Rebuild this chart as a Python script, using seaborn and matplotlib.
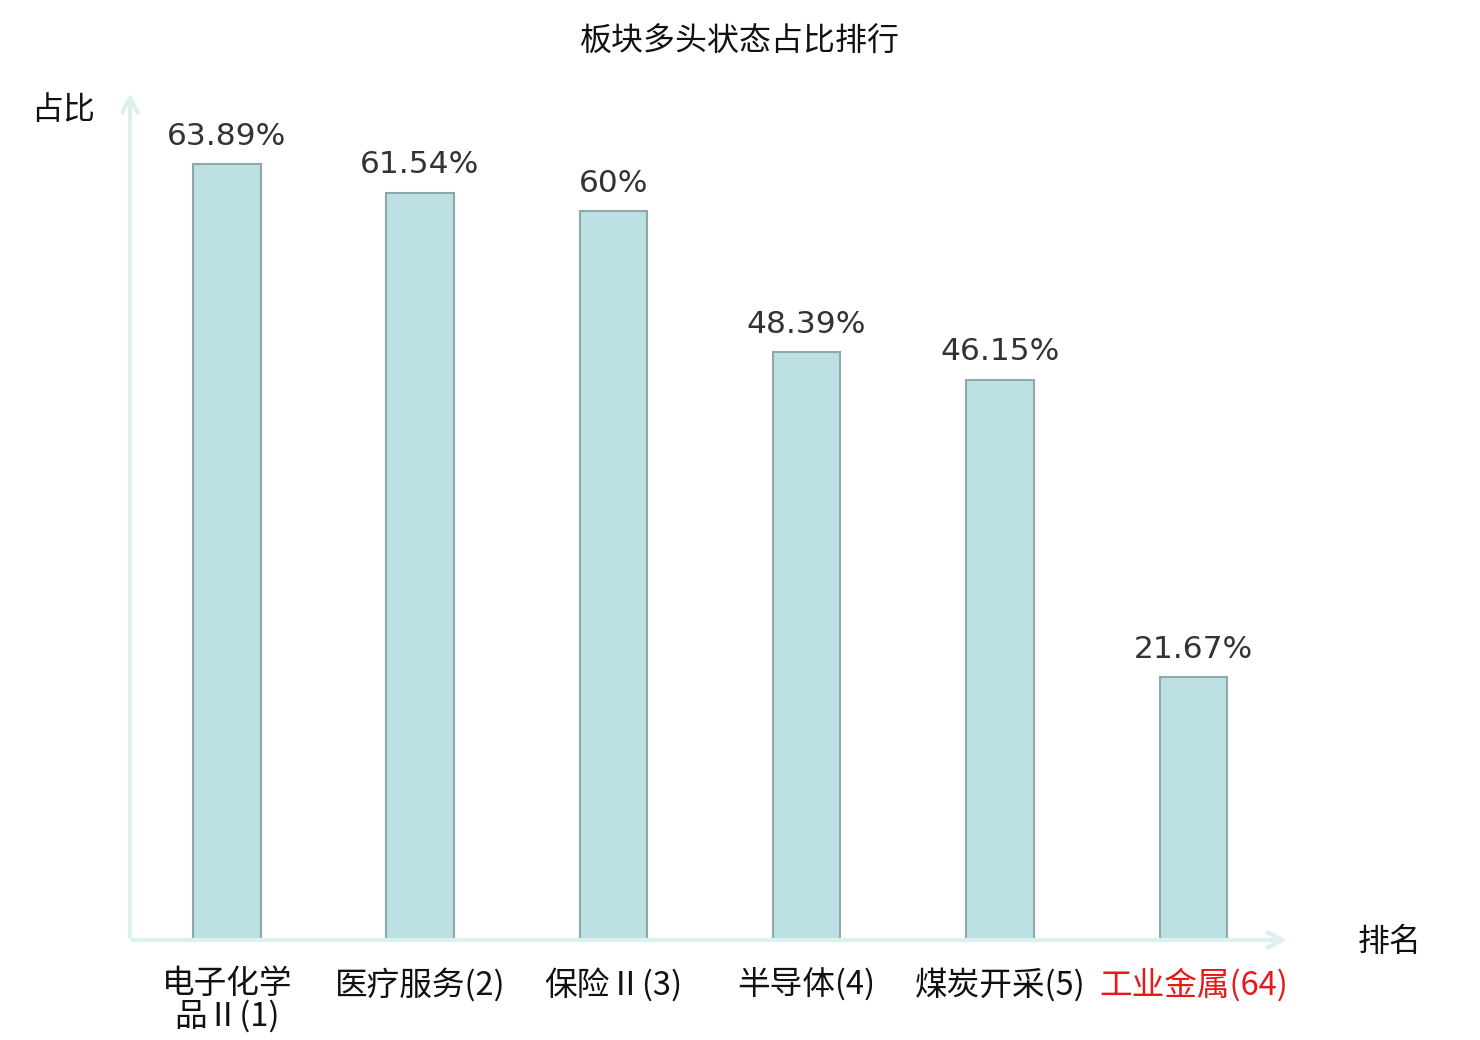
import matplotlib
matplotlib.use("Agg")
import matplotlib.pyplot as plt
import seaborn as sns
import pandas as pd

# -------------------------------
# data
# -------------------------------
sectors = ["电子化学\n品Ⅱ(1)", "医疗服务(2)", "保险Ⅱ(3)", "半导体(4)", "煤炭开采(5)", "工业金属(64)"]
ratios = [63.89, 61.54, 60.0, 48.39, 46.15, 21.67]
value_labels = ["63.89%", "61.54%", "60%", "48.39%", "46.15%", "21.67%"]
highlight = "工业金属(64)"

df = pd.DataFrame({"sector": sectors, "ratio": ratios})

sns.set_theme(style="white")
plt.rcParams["font.family"] = ["Noto Sans CJK SC", "DejaVu Sans"]

fig = plt.figure(figsize=(14.8, 10.4), dpi=100)
ax = fig.add_axes([130 / 1480, 100 / 1040, 1160 / 1480, 850 / 1040])

sns.barplot(data=df, x="sector", y="ratio", color="#bce0e3", saturation=1,
            width=0.35, edgecolor="#8fa9aa", linewidth=1.5, ax=ax)

ax.set_xlim(-0.5, 5.5)
ax.set_ylim(0, 70)

for i, (v, lab) in enumerate(zip(ratios, value_labels)):
    ax.text(i, v + 1.1, lab, ha="center", va="bottom", fontsize=22.5,
            color="#333333", family="DejaVu Sans")

for s in ax.spines.values():
    s.set_visible(False)
ax.set_yticks([])
ax.tick_params(axis="x", length=0, pad=20, labelsize=23.5)
for t in ax.get_xticklabels():
    t.set_linespacing(1.02)
    if t.get_text() == highlight:
        t.set_color("#e8191a")
    else:
        t.set_color("#111111")
ax.set_xlabel("")
ax.set_ylabel("")

# axis arrows
arrow_col = "#dcf1ee"
ax.annotate("", xy=(1.0, 0), xytext=(0, 0), xycoords="axes fraction",
            arrowprops=dict(arrowstyle="->,head_length=0.9,head_width=0.45",
                            color=arrow_col, lw=3))
ax.annotate("", xy=(0, 1.0), xytext=(0, 0), xycoords="axes fraction",
            arrowprops=dict(arrowstyle="->,head_length=0.9,head_width=0.45",
                            color=arrow_col, lw=3))

fig.text(1390 / 1480, 1 - 942 / 1040, "排名", ha="center", va="center", fontsize=23, color="#111111")
fig.text(63 / 1480, 1 - 110 / 1040, "占比", ha="center", va="center", fontsize=23, color="#111111")
fig.text(740 / 1480, 1 - 42 / 1040, "板块多头状态占比排行", ha="center", va="center", fontsize=23, color="#111111")

fig.savefig("out.png", dpi=100)
